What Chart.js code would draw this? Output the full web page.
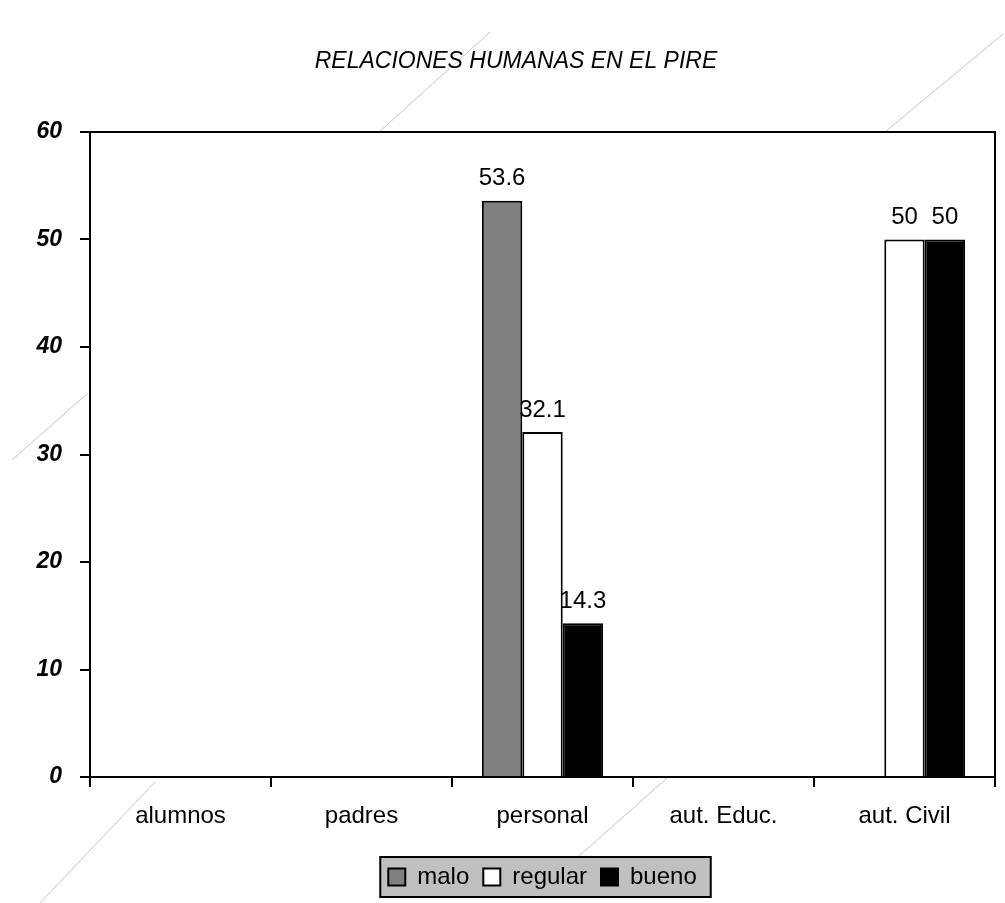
<!DOCTYPE html>
<html>
<head>
<meta charset="utf-8">
<script src="https://cdn.jsdelivr.net/npm/chart.js@4.4.1/dist/chart.umd.min.js"></script>
<style>
  html, body { margin: 0; padding: 0; background: #fff; }
  #wrap { width: 1005px; height: 903px; }
</style>
</head>
<body>
<div id="wrap"><canvas id="chart"></canvas></div>
<script>
const chartTitle = 'RELACIONES HUMANAS EN EL PIRE';
const categories = ['alumnos', 'padres', 'personal', 'aut. Educ.', 'aut. Civil'];
const malo = [0, 0, 53.6, 0, 0];
const regular = [0, 0, 32.1, 0, 50];
const bueno = [0, 0, 14.3, 0, 50];
const yTicks = [0, 10, 20, 30, 40, 50, 60];

// faint scan lines seen on the original background
const scanLines = [
  [490, 32, 379, 132],
  [1003, 34, 885, 132],
  [88, 393, 12, 460],
  [155, 782, 40, 903],
  [667, 778, 578, 857]
];

const font = 'Arial, "Liberation Sans", sans-serif';

const backdrop = {
  id: 'backdrop',
  beforeDraw(chart) {
    const c = chart.ctx;
    c.save();
    c.fillStyle = '#fff';
    c.fillRect(0, 0, chart.width, chart.height);
    c.strokeStyle = '#c4c4c4';
    c.lineWidth = 1;
    scanLines.forEach(([x1, y1, x2, y2]) => {
      c.beginPath();
      c.moveTo(x1, y1);
      c.lineTo(x2, y2);
      c.stroke();
    });
    const a = chart.chartArea;
    c.fillStyle = '#fff';
    c.fillRect(a.left, a.top, a.right - a.left, a.bottom - a.top);
    c.fillStyle = '#000';
    c.font = 'italic 23px ' + font;
    c.textAlign = 'center';
    c.textBaseline = 'middle';
    c.fillText(chartTitle, 516, 62);

    // legend background
    const boxes = chart.legend.legendHitBoxes;
    if (boxes && boxes.length) {
      const l = Math.min(...boxes.map(b => b.left)) - 8;
      const r = Math.max(...boxes.map(b => b.left + b.width)) + 14;
      const t = boxes[0].top - 8;
      const h = boxes[0].height + 16;
      c.fillStyle = '#c0c0c0';
      c.fillRect(l, t, r - l, h);
      c.strokeStyle = '#000';
      c.lineWidth = 2;
      c.strokeRect(l, t, r - l, h);
    }
    c.restore();
  },
  beforeDatasetsDraw(chart) {
    const a = chart.chartArea;
    const c = chart.ctx;
    c.save();
    c.strokeStyle = '#000';
    c.lineWidth = 2;
    c.strokeRect(a.left, a.top, a.right - a.left, a.bottom - a.top);
    c.restore();
  }
};

const valueLabels = {
  id: 'valueLabels',
  afterDatasetsDraw(chart) {
    const c = chart.ctx;
    c.save();
    c.fillStyle = '#000';
    c.font = '24px ' + font;
    c.textAlign = 'center';
    c.textBaseline = 'bottom';
    chart.data.datasets.forEach((ds, i) => {
      chart.getDatasetMeta(i).data.forEach((bar, j) => {
        const v = ds.data[j];
        if (!v) return;
        c.fillText(String(v), bar.x, bar.y - 10);
      });
    });
    c.restore();
  }
};

new Chart(document.getElementById('chart'), {
  type: 'bar',
  data: {
    labels: categories,
    datasets: [
      { label: 'malo', data: malo, backgroundColor: '#808080' },
      { label: 'regular', data: regular, backgroundColor: '#ffffff' },
      { label: 'bueno', data: bueno, backgroundColor: '#000000' }
    ].map(d => Object.assign(d, {
      borderColor: '#000',
      borderWidth: 2,
      categoryPercentage: 0.67,
      barPercentage: 1
    }))
  },
  options: {
    responsive: true,
    maintainAspectRatio: false,
    animation: false,
    layout: { padding: { top: 132, right: 10, bottom: 4, left: 0 } },
    plugins: {
      title: { display: false },
      tooltip: { enabled: false },
      legend: {
        position: 'bottom',
        fullSize: false,
        labels: {
          color: '#000',
          font: { family: font, size: 24 },
          boxWidth: 17,
          boxHeight: 17,
          padding: 14,
          generateLabels(chart) {
            return chart.data.datasets.map((ds, i) => ({
              text: ds.label,
              fillStyle: ds.backgroundColor,
              strokeStyle: '#000',
              lineWidth: 2,
              datasetIndex: i
            }));
          }
        }
      }
    },
    scales: {
      x: {
        grid: { display: true, drawOnChartArea: false, offset: true, color: '#000', lineWidth: 2, tickLength: 10 },
        border: { display: true, color: '#000', width: 2 },
        ticks: { color: '#000', font: { family: font, size: 24 }, padding: 15 },
        afterFit(scale) { scale.height = 74; }
      },
      y: {
        min: 0,
        max: 60,
        afterBuildTicks(scale) { scale.ticks = yTicks.map(v => ({ value: v })); },
        grid: { display: true, drawOnChartArea: false, color: '#000', lineWidth: 2, tickLength: 10 },
        border: { display: true, color: '#000', width: 2 },
        ticks: { color: '#000', font: { family: font, size: 23, style: 'italic', weight: 'bold' }, padding: 18 },
        afterFit(scale) { scale.width = 90; }
      }
    }
  },
  plugins: [backdrop, valueLabels]
});
</script>
</body>
</html>
